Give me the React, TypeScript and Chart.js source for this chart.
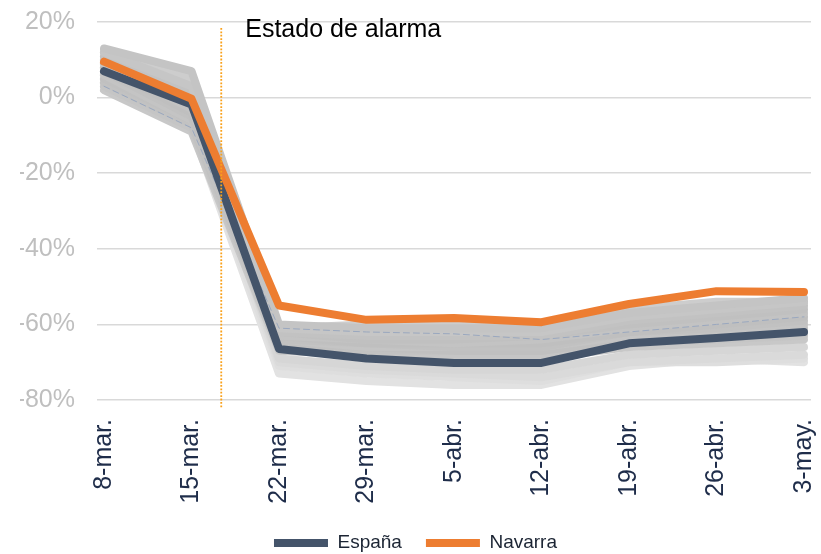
import React, { useEffect, useRef } from 'react';
import { Chart, registerables } from 'chart.js';

Chart.register(...registerables);

const categorias = ['8-mar.', '15-mar.', '22-mar.', '29-mar.', '5-abr.', '12-abr.', '19-abr.', '26-abr.', '3-may.'];
const espana = [7, -1.8, -66.5, -69, -70.2, -70.2, -65, -63.6, -62];
const navarra = [9.5, -0.3, -55, -58.8, -58.3, -59.4, -54.6, -51.2, -51.4];
const otrasRegiones: number[][] = [
  [13, 7, -60, -61, -61, -61, -57, -55, -53],
  [12, 3, -61, -62, -62, -62, -58, -56, -54],
  [11, 1, -62, -63, -63, -63, -59, -57, -55],
  [10, -1, -62, -64, -64, -63, -60, -58, -56],
  [9, -3, -63, -64, -65, -64, -61, -59, -57],
  [8, -4, -63, -65, -65, -65, -62, -60, -58],
  [7, -5, -64, -65, -66, -66, -62, -61, -59],
  [6, -6, -64, -66, -66, -66, -63, -62, -60],
  [5, -6, -65, -66, -67, -67, -64, -62, -61],
  [4, -7, -65, -67, -67, -67, -64, -63, -62],
  [3, -8, -66, -67, -68, -68, -65, -64, -63],
  [2, -9, -67, -68, -69, -69, -66, -65, -64],
  [12, 5, -61, -60, -60, -60, -56, -54, -54],
  [5, -5, -69, -71, -72, -72, -68, -67, -66],
  [8, -3, -70, -72, -73, -74, -70, -69, -68],
  [4, -7, -71, -73, -74, -75, -70, -70, -69],
  [6, -8, -73, -75, -76, -76, -71, -69, -70],
];
const coloresGris = [
  '#c4c4c4', '#c6c6c6', '#c2c2c2', '#c0c0c0', '#c3c3c3', '#bfbfbf', '#c1c1c1', '#c4c4c4',
  '#c0c0c0', '#c2c2c2', '#c5c5c5', '#c8c8c8', '#cdcdcd', '#d6d6d6', '#dadada', '#dedede', '#e2e2e2',
];
const lineaFina = [3, -8, -61, -62, -62.5, -64, -62, -60, -58];
const eventoX = 1.34;
const eventoTexto = 'Estado de alarma';

const FONT = '"Liberation Sans", Arial, sans-serif';

export default function App() {
  const ref = useRef<HTMLCanvasElement>(null);

  useEffect(() => {
    if (!ref.current) return;
    const pts = (arr: number[]) => arr.map((y, i) => ({ x: i, y }));

    const annot = {
      id: 'annot',
      afterDatasetsDraw(chart: any) {
        const { ctx, chartArea } = chart;
        const x = chart.scales.x.getPixelForValue(eventoX);
        ctx.save();
        ctx.strokeStyle = '#F9A11B';
        ctx.lineWidth = 1.8;
        ctx.setLineDash([1.8, 1.6]);
        ctx.beginPath();
        ctx.moveTo(x, chartArea.top + 6);
        ctx.lineTo(x, chartArea.bottom + 8);
        ctx.stroke();
        ctx.setLineDash([]);
        ctx.fillStyle = '#000000';
        ctx.font = '25px ' + FONT;
        ctx.textBaseline = 'alphabetic';
        ctx.textAlign = 'left';
        ctx.fillText(eventoTexto, x + 24, 37);
        ctx.restore();
      },
    };

    const base = {
      pointRadius: 0,
      pointHoverRadius: 0,
      tension: 0,
      borderCapStyle: 'round' as const,
      borderJoinStyle: 'round' as const,
      fill: false,
    };

    const datasets: any[] = [
      { ...base, label: 'España', data: pts(espana), borderColor: '#44546A', backgroundColor: '#44546A', pointBorderColor: '#44546A', pointBorderWidth: 8, borderWidth: 8, order: 1 },
      { ...base, label: 'Navarra', data: pts(navarra), borderColor: '#ED7D31', backgroundColor: '#ED7D31', pointBorderColor: '#ED7D31', pointBorderWidth: 8, borderWidth: 8, order: 0 },
      { ...base, label: '', data: pts(lineaFina), borderColor: '#9AA8BF', borderWidth: 1, borderDash: [6, 4], order: 1.5 },
      ...otrasRegiones.map((d, i) => ({
        ...base,
        label: '',
        data: pts(d),
        borderColor: coloresGris[i],
        borderWidth: 8,
        order: 2,
      })),
    ];

    const chart = new Chart(ref.current, {
      type: 'line',
      data: { datasets },
      options: {
        animation: false,
        responsive: false,
        maintainAspectRatio: false,
        layout: { padding: { top: 22, right: 10, left: 20, bottom: -8.5 } },
        plugins: {
          tooltip: { enabled: false },
          legend: {
            position: 'bottom',
            labels: {
              filter: (item: any) => item.text === 'España' || item.text === 'Navarra',
              sort: (a: any, b: any) => a.datasetIndex - b.datasetIndex,
              usePointStyle: true,
              pointStyle: 'line',
              pointStyleWidth: 54,
              boxWidth: 54,
              padding: 24,
              color: '#1B2433',
              font: { size: 19, family: FONT },
            },
          },
        },
        scales: {
          x: {
            type: 'linear',
            min: -0.08,
            max: 8.08,
            grid: { display: false },
            border: { display: false },
            afterBuildTicks: (scale: any) => {
              scale.ticks = categorias.map((_, i) => ({ value: i }));
            },
            afterFit: (scale: any) => {
              scale.height = 109.5;
              scale.paddingLeft = 0;
              scale.paddingRight = 0;
            },
            ticks: {
              autoSkip: false,
              minRotation: 90,
              maxRotation: 90,
              padding: 11,
              color: '#1F2D4A',
              font: { size: 25, family: FONT },
              callback: (v: any) => categorias[v] ?? '',
            },
          },
          y: {
            min: -80,
            max: 20,
            grid: { color: '#D9D9D9', lineWidth: 1.5, drawTicks: false },
            border: { display: false },
            afterFit: (scale: any) => {
              scale.width = 77;
              scale.paddingTop = 0;
              scale.paddingBottom = 0;
            },
            ticks: {
              stepSize: 20,
              padding: 22,
              color: '#BFBFBF',
              font: { size: 25, family: FONT },
              callback: (v: any) => v + '%',
            },
          },
        },
      },
      plugins: [annot],
    });
    return () => chart.destroy();
  }, []);

  return (
    <div style={{ position: 'fixed', left: 0, top: 0, width: 821, height: 554, overflow: 'hidden', background: '#fff' }}>
      <canvas ref={ref} width={821} height={554} style={{ width: 821, height: 554 }} />
    </div>
  );
}
